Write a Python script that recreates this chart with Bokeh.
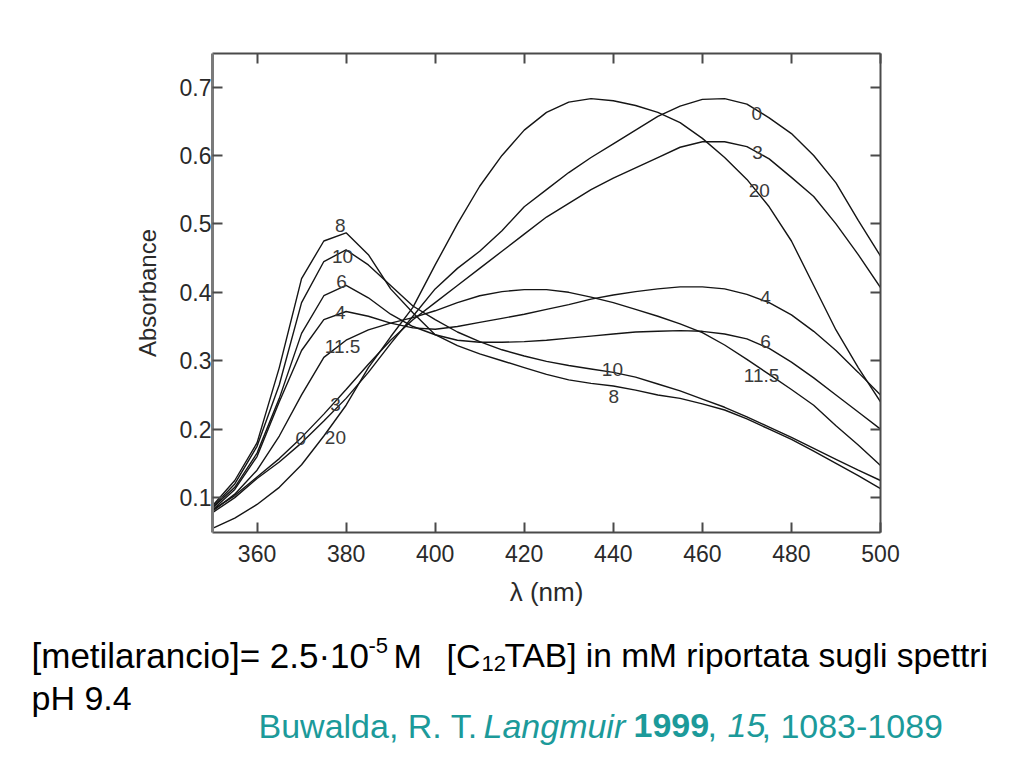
from bokeh.plotting import figure
from bokeh.layouts import column
from bokeh.models import Range1d, FixedTicker, LinearAxis, ColumnDataSource
from bokeh.embed import file_html
from bokeh.resources import INLINE
from bokeh.core.properties import value

# ---------------- data ----------------
wavelength = [350, 355, 360, 365, 370, 375, 380, 385, 390, 395, 400, 405, 410, 415, 420,
              425, 430, 435, 440, 445, 450, 455, 460, 465, 470, 475, 480, 485, 490, 495, 500]

abs_0 = [0.078, 0.100, 0.128, 0.152, 0.180, 0.212, 0.245, 0.283, 0.325, 0.365, 0.405, 0.435,
         0.460, 0.490, 0.525, 0.550, 0.575, 0.597, 0.617, 0.637, 0.657, 0.672, 0.682, 0.683,
         0.675, 0.655, 0.632, 0.600, 0.560, 0.505, 0.453]
abs_3 = [0.082, 0.103, 0.130, 0.157, 0.188, 0.222, 0.258, 0.295, 0.330, 0.360, 0.385, 0.410,
         0.435, 0.460, 0.485, 0.510, 0.530, 0.550, 0.567, 0.582, 0.597, 0.612, 0.620, 0.620,
         0.613, 0.595, 0.568, 0.540, 0.500, 0.455, 0.407]
abs_4 = [0.082, 0.112, 0.160, 0.240, 0.315, 0.360, 0.372, 0.365, 0.355, 0.348, 0.346, 0.350,
         0.356, 0.362, 0.368, 0.375, 0.382, 0.390, 0.396, 0.401, 0.405, 0.408, 0.408, 0.405,
         0.397, 0.385, 0.367, 0.343, 0.315, 0.283, 0.250]
abs_6 = [0.085, 0.115, 0.165, 0.245, 0.340, 0.395, 0.410, 0.392, 0.368, 0.350, 0.338, 0.330,
         0.327, 0.327, 0.328, 0.330, 0.333, 0.336, 0.339, 0.342, 0.343, 0.344, 0.343, 0.339,
         0.332, 0.318, 0.298, 0.275, 0.250, 0.225, 0.200]
abs_8 = [0.088, 0.125, 0.180, 0.290, 0.420, 0.475, 0.487, 0.455, 0.405, 0.370, 0.338, 0.322,
         0.310, 0.300, 0.290, 0.280, 0.272, 0.267, 0.263, 0.257, 0.250, 0.245, 0.237, 0.228,
         0.215, 0.200, 0.185, 0.168, 0.150, 0.132, 0.113]
abs_10 = [0.086, 0.120, 0.175, 0.265, 0.385, 0.445, 0.462, 0.440, 0.410, 0.380, 0.360, 0.342,
          0.328, 0.316, 0.307, 0.299, 0.293, 0.288, 0.283, 0.276, 0.266, 0.256, 0.244, 0.232,
          0.218, 0.203, 0.188, 0.172, 0.156, 0.140, 0.125]
abs_11_5 = [0.080, 0.105, 0.140, 0.190, 0.250, 0.305, 0.330, 0.345, 0.355, 0.363, 0.373, 0.385,
            0.395, 0.401, 0.404, 0.404, 0.400, 0.393, 0.385, 0.375, 0.365, 0.354, 0.341, 0.323,
            0.302, 0.280, 0.258, 0.235, 0.205, 0.177, 0.147]
abs_20 = [0.055, 0.070, 0.090, 0.115, 0.148, 0.190, 0.235, 0.290, 0.335, 0.378, 0.440, 0.500,
          0.555, 0.600, 0.637, 0.663, 0.678, 0.683, 0.680, 0.673, 0.663, 0.648, 0.625, 0.597,
          0.565, 0.525, 0.475, 0.410, 0.345, 0.290, 0.240]

series = [abs_0, abs_3, abs_4, abs_6, abs_8, abs_10, abs_11_5, abs_20]

x_ticks = [360, 380, 400, 420, 440, 460, 480, 500]
y_ticks = [0.1, 0.2, 0.3, 0.4, 0.5, 0.6, 0.7]

# curve labels: text, wavelength, absorbance
curve_labels = ["8", "10", "6", "4", "11.5", "3", "0", "20",
                "0", "3", "20", "4", "6", "11.5", "10", "8"]
curve_label_x = [378.7, 379.2, 379.0, 378.7, 379.2, 377.6, 369.8, 377.6,
                 472.2, 472.4, 472.8, 474.2, 474.2, 473.3, 439.8, 440.1]
curve_label_y = [0.498, 0.452, 0.416, 0.371, 0.321, 0.236, 0.186, 0.188,
                 0.662, 0.605, 0.549, 0.392, 0.328, 0.278, 0.287, 0.248]

# caption pieces (text, style, size)
caption_text = ["[metilarancio]= 2.5·10", "-5", "M", "[C", "12",
                "TAB] in mM riportata sugli spettri", "pH 9.4",
                "Buwalda, R. T.", "Langmuir", "1999", ",", "15", ", 1083-1089"]
caption_style = ["normal", "normal", "normal", "normal", "normal", "normal", "normal",
                 "normal", "italic", "bold", "normal", "italic", "normal"]
caption_size = ["35px", "22px", "34px", "34px", "22px", "33.5px", "34px",
                "34px", "34px", "34px", "34px", "34px", "34px"]
caption_color = ["black"] * 7 + ["#1c9a9a"] * 6
caption_x = [31, 368, 393, 446, 481, 504, 31, 258, 483, 633, 707, 727, 761]
caption_y = [655, 645, 655, 655, 663, 655, 697, 725, 725, 725, 725, 725, 725]

# ---------------- main chart ----------------
SANS = "Liberation Sans"
axis_col = "#4a4a4a"

p = figure(width=1016, height=612, output_backend="svg", toolbar_location=None,
           x_range=Range1d(350, 500), y_range=Range1d(0.049, 0.749),
           min_border_left=212, min_border_right=136, min_border_top=53, min_border_bottom=80)
p.background_fill_color = "white"
p.border_fill_color = "white"
p.outline_line_color = None
p.xgrid.visible = False
p.ygrid.visible = False

def style_axis(ax, labels=True):
    ax.axis_line_color = axis_col
    ax.axis_line_width = 2
    ax.major_tick_line_color = axis_col
    ax.major_tick_line_width = 2
    ax.major_tick_in = 10
    ax.major_tick_out = 0
    ax.minor_tick_line_color = None
    ax.major_label_text_font = SANS
    ax.major_label_text_font_size = "23px"
    ax.major_label_text_color = "#2a2a2a"
    ax.axis_label_text_font = SANS
    ax.axis_label_text_font_style = "normal"
    ax.axis_label_text_color = "#2a2a2a"
    if not labels:
        ax.major_label_text_font_size = "0px"
        ax.major_label_text_color = None

xa = p.xaxis[0]
xa.ticker = FixedTicker(ticks=x_ticks)
style_axis(xa)
xa.major_label_standoff = 12
xa.axis_label = "λ (nm)"
xa.axis_label_text_font_size = "26px"
xa.axis_label_standoff = 12
ya = p.yaxis[0]
ya.ticker = FixedTicker(ticks=y_ticks)
style_axis(ya)
ya.major_label_standoff = 1
ya.axis_line_color = "#7a7a7a"
ya.axis_line_width = 3
ya.axis_label = "Absorbance"
ya.axis_label_text_font_size = "24px"
ya.axis_label_standoff = 16

top_ax = LinearAxis(ticker=FixedTicker(ticks=x_ticks))
style_axis(top_ax, labels=False)
p.add_layout(top_ax, "above")
right_ax = LinearAxis(ticker=FixedTicker(ticks=y_ticks))
style_axis(right_ax, labels=False)
p.add_layout(right_ax, "right")

for ys in series:
    p.line(wavelength, ys, line_color="#151515", line_width=1.4)

p.text(x=curve_label_x, y=curve_label_y, text=curve_labels,
       text_font=value(SANS), text_font_size="19px", text_color="#3a3a3a",
       text_align="center", text_baseline="middle")

# ---------------- caption panel (page-pixel coordinates) ----------------
c = figure(width=1016, height=148, output_backend="svg", toolbar_location=None,
           x_range=Range1d(0, 1016), y_range=Range1d(760, 612),
           min_border_left=0, min_border_right=0, min_border_top=0, min_border_bottom=0)
c.axis.visible = False
c.grid.visible = False
c.outline_line_color = None
c.background_fill_color = "white"
c.border_fill_color = "white"
for fig in (p, c):
    if "frame_align" in fig.properties():
        fig.frame_align = False

src = ColumnDataSource(dict(x=caption_x, y=caption_y, t=caption_text, s=caption_style,
                            z=caption_size, col=caption_color))
c.text(x="x", y="y", text="t", source=src, text_font=value(SANS),
       text_font_style="s", text_font_size="z", text_color="col",
       text_align="left", text_baseline="alphabetic")

layout = column(p, c, spacing=0)
open("out.html", "w").write(file_html(layout, INLINE))
